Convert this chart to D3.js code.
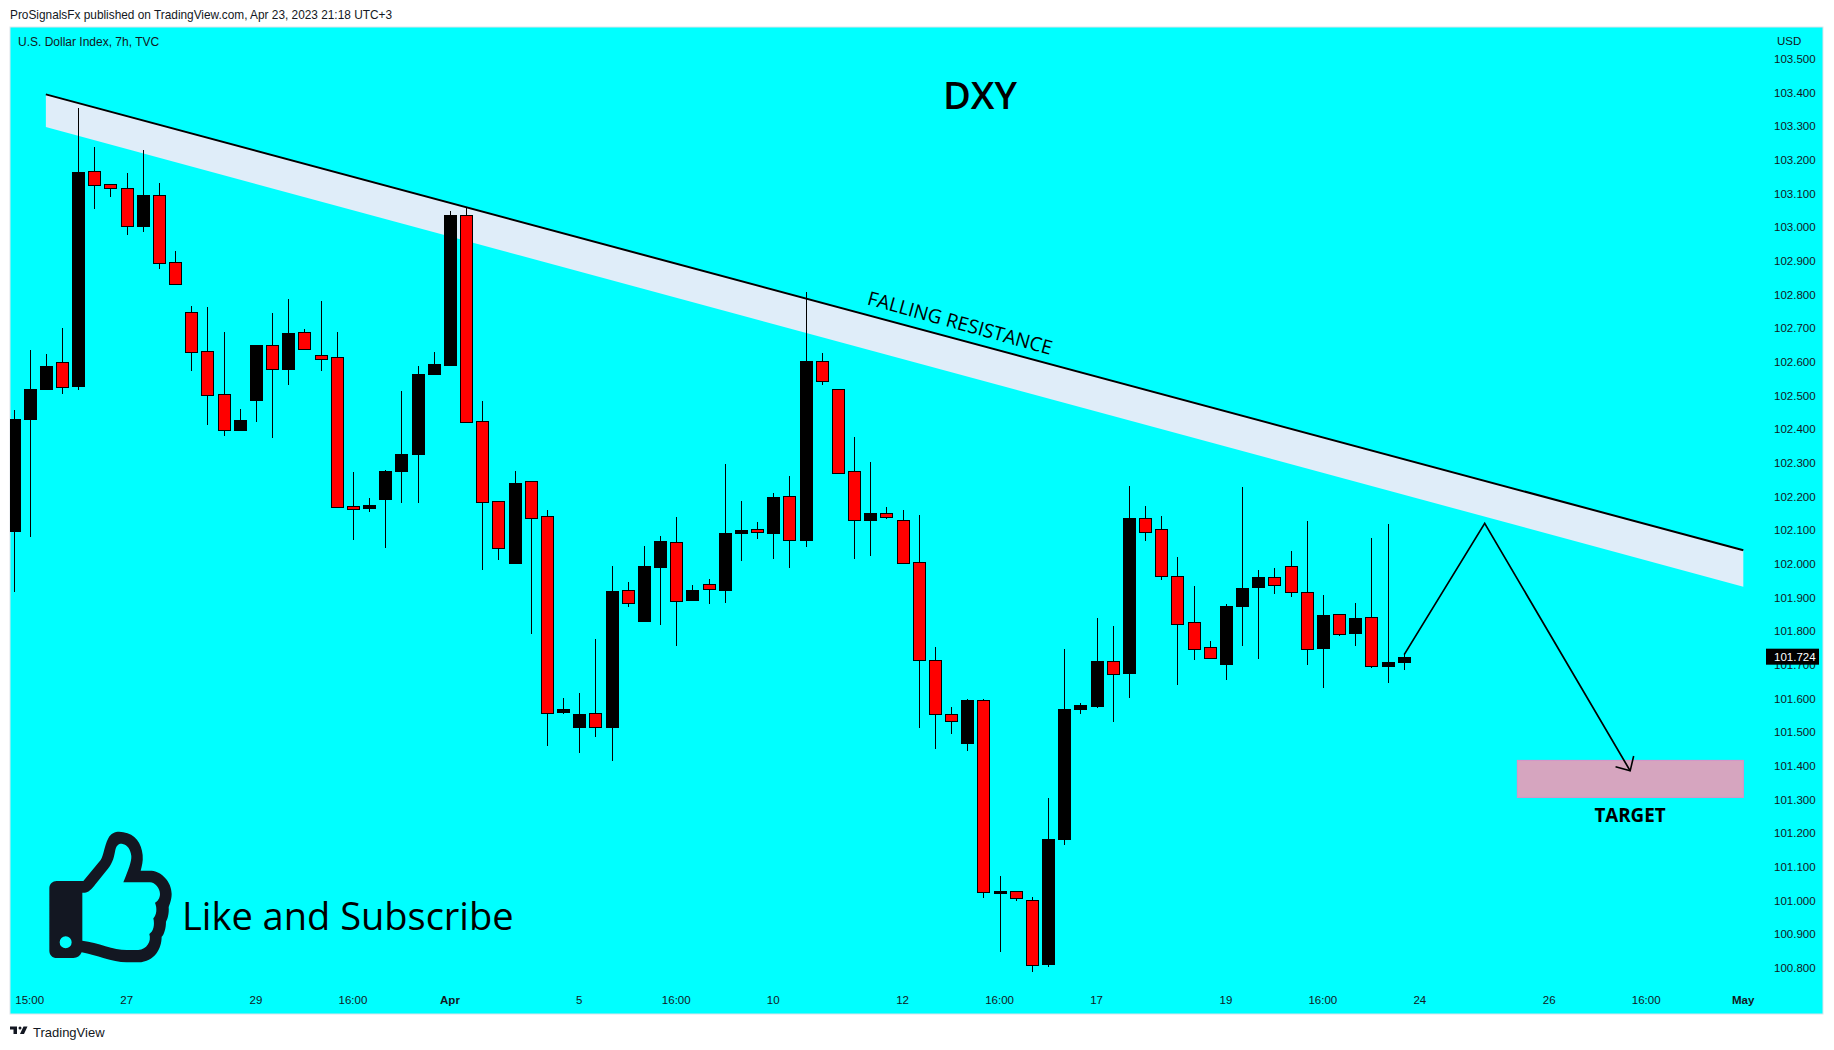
<!DOCTYPE html>
<html>
<head>
<meta charset="utf-8">
<script src="https://cdn.jsdelivr.net/npm/d3@7"></script>
<style>
  html, body { margin: 0; padding: 0; background: #fff; }
  text { font-family: "Liberation Sans", Arial, sans-serif; fill: #131722; }
</style>
</head>
<body>
<div id="chart"></div>
<script>
// Canvas size and the pane that holds the chart
const width = 1834;
const height = 1050;
const pane = { left: 10, top: 27, right: 1823, bottom: 1014 };

// OHLC, one entry per 7h candle
const opens = [102.097,102.430,102.519,102.598,102.528,103.165,103.127,103.115,103.003,103.094,102.895,102.749,102.631,102.503,102.397,102.486,102.649,102.578,102.688,102.619,102.614,102.173,102.165,102.192,102.275,102.326,102.563,102.590,103.035,102.423,102.185,102.002,102.245,102.141,101.559,101.513,101.556,101.516,101.921,101.831,101.991,102.066,101.892,101.939,101.923,102.091,102.102,102.091,102.200,102.070,102.601,102.518,102.274,102.130,102.152,102.129,102.004,101.713,101.553,101.467,101.594,101.023,101.027,101.000,100.812,101.182,101.568,101.578,101.710,101.675,102.135,102.102,101.965,101.826,101.752,101.703,101.875,101.929,101.962,101.992,101.915,101.750,101.850,101.794,101.841,101.696,101.708];
const highs = [102.456,102.634,102.623,102.700,103.355,103.237,103.127,103.160,103.228,103.130,102.929,102.765,102.762,102.688,102.459,102.649,102.744,102.786,102.697,102.780,102.688,102.272,102.195,102.278,102.513,102.587,102.629,103.047,103.057,102.483,102.185,102.275,102.245,102.159,101.601,101.616,101.776,101.993,101.945,102.052,102.082,102.139,101.937,101.954,102.296,102.186,102.124,102.210,102.260,102.807,102.626,102.518,102.376,102.302,102.168,102.159,102.144,101.752,101.574,101.598,101.599,101.072,101.027,101.010,101.304,101.746,101.586,101.839,101.815,102.231,102.171,102.141,102.020,101.934,101.770,101.880,102.228,101.981,101.987,102.038,102.127,101.907,101.850,101.883,102.076,102.118,101.735];
const lows = [101.917,102.080,102.516,102.504,102.516,103.053,103.090,102.976,102.986,102.876,102.831,102.572,102.412,102.379,102.397,102.421,102.374,102.531,102.638,102.572,102.169,102.070,102.153,102.046,102.180,102.180,102.560,102.590,102.419,101.981,102.011,101.999,101.791,101.459,101.553,101.438,101.486,101.415,101.872,101.831,101.818,101.756,101.892,101.880,101.883,102.008,102.073,102.014,101.987,102.049,102.531,102.270,102.014,102.023,102.133,102.000,101.512,101.449,101.494,101.444,101.007,100.847,100.999,100.788,100.803,101.165,101.553,101.572,101.530,101.601,102.067,101.952,101.640,101.714,101.718,101.655,101.756,101.717,101.910,101.901,101.699,101.631,101.785,101.755,101.690,101.645,101.684];
const closes = [102.430,102.519,102.587,102.523,103.163,103.122,103.114,103.001,103.095,102.891,102.831,102.629,102.499,102.395,102.427,102.649,102.579,102.685,102.638,102.608,102.169,102.163,102.174,102.275,102.326,102.563,102.593,103.035,102.419,102.181,102.044,102.239,102.136,101.557,101.568,101.553,101.513,101.919,101.881,101.993,102.067,101.890,101.921,101.923,102.091,102.100,102.092,102.198,102.068,102.602,102.543,102.270,102.128,102.150,102.139,102.000,101.712,101.554,101.531,101.595,101.023,101.029,101.005,100.806,101.182,101.568,101.580,101.711,101.670,102.136,102.092,101.961,101.822,101.747,101.718,101.874,101.928,101.960,101.937,101.914,101.747,101.847,101.792,101.839,101.694,101.708,101.724];
const lastPrice = 101.724;

// Axis labels
const priceTicks = d3.range(27, -1, -1).map(k => +(100.8 + k / 10).toFixed(1));
const timeTickIndex = [1, 7, 15, 21, 27, 35, 41, 47, 55, 61, 67, 75, 81, 87, 95, 101, 107];
const timeTickLabels = ["15:00", "27", "29", "16:00", "Apr", "5", "16:00", "10", "12", "16:00", "17", "19", "16:00", "24", "26", "16:00", "May"];
const boldLabels = ["Apr", "May"];

// Drawings on the chart, as [candle index, price]
const resistanceTop = [[1.97, 103.394], [106.98, 102.04]];
const resistanceBottom = [[1.97, 103.297], [106.98, 101.932]];
const projection = [[86, 101.73], [90.98, 102.12], [99.98, 101.385]];
const targetZone = { from: 93, to: 106.98, top: 101.416, bottom: 101.306 };

const x = d3.scaleLinear().domain([0, 107]).range([14, 14 + 107 * 16.165]);
const y = d3.scaleLinear().domain([103.5, 100.8]).range([58.7, 967.8]);

const svg = d3.select("#chart").append("svg")
    .attr("width", width)
    .attr("height", height)
    .style("display", "block");

const defs = svg.append("defs");
defs.append("clipPath").attr("id", "pane-clip").append("rect")
    .attr("x", pane.left).attr("y", pane.top)
    .attr("width", pane.right - pane.left).attr("height", pane.bottom - pane.top);
// Open arrow head for the projected move
defs.append("marker")
    .attr("id", "open-arrow")
    .attr("viewBox", "-18 -12 20 24")
    .attr("refX", 0).attr("refY", 0)
    .attr("markerUnits", "userSpaceOnUse")
    .attr("markerWidth", 20).attr("markerHeight", 24)
    .attr("orient", "auto")
    .append("path")
    .attr("d", "M-11,-10.5L0,0L-11,10.5")
    .attr("fill", "none").attr("stroke", "#000").attr("stroke-width", 1.6);

// Pane background
svg.append("rect")
    .attr("x", pane.left).attr("y", pane.top)
    .attr("width", pane.right - pane.left).attr("height", pane.bottom - pane.top)
    .attr("fill", "#00ffff")
    .attr("stroke", "#dfe3ea").attr("stroke-width", 1);

// Header and footer
svg.append("text").attr("x", 10).attr("y", 19).style("font-size", "11.85px")
    .text("ProSignalsFx published on TradingView.com, Apr 23, 2023 21:18 UTC+3");
svg.append("text").attr("x", 18).attr("y", 46).style("font-size", "12px")
    .text("U.S. Dollar Index, 7h, TVC");
svg.append("text").attr("x", 1777).attr("y", 45).style("font-size", "11.5px").text("USD");
svg.append("text").attr("x", 33).attr("y", 1037).style("font-size", "13px").text("TradingView");
const logo = svg.append("g").attr("transform", "translate(10,1023.5) scale(0.5)").attr("fill", "#131722");
logo.append("path").attr("d", "M14 6H0v6h7v9h7z");
logo.append("circle").attr("cx", 20).attr("cy", 9).attr("r", 3);
logo.append("path").attr("d", "M28 21h-8l7-15h8z");

// Axes
const yAxis = svg.append("g")
    .attr("transform", "translate(1774,0)")
    .call(d3.axisRight(y).tickValues(priceTicks).tickFormat(d3.format(".3f")).tickSize(0).tickPadding(0));
yAxis.select(".domain").remove();
yAxis.selectAll("text").style("font-size", "11.5px").style("font-family", "'Liberation Sans', Arial, sans-serif").attr("fill", "#131722");

const xAxis = svg.append("g")
    .attr("transform", "translate(-1,996)")
    .call(d3.axisBottom(x).tickValues(timeTickIndex)
        .tickFormat((d, i) => timeTickLabels[i]).tickSize(0).tickPadding(0));
xAxis.select(".domain").remove();
xAxis.selectAll("text")
    .style("font-size", "11.5px")
    .style("font-family", "'Liberation Sans', Arial, sans-serif")
    .style("font-weight", (d, i) => boldLabels.includes(timeTickLabels[i]) ? "bold" : "normal");

const plot = svg.append("g").attr("clip-path", "url(#pane-clip)");

// Resistance band sits under the candles
const bandArea = d3.area()
    .x(d => x(d[0]))
    .y0((d, i) => y(resistanceBottom[i][1]))
    .y1(d => y(d[1]));
plot.append("path").datum(resistanceTop).attr("d", bandArea).attr("fill", "#dfedf9");

// Target zone
plot.append("rect")
    .attr("x", x(targetZone.from))
    .attr("y", y(targetZone.top))
    .attr("width", x(targetZone.to) - x(targetZone.from))
    .attr("height", y(targetZone.bottom) - y(targetZone.top))
    .attr("fill", "#d6a5bf")
    .attr("stroke", "#e08fc4").attr("stroke-width", 1);

// Candles
const candles = opens.map((open, i) => ({ i, open, high: highs[i], low: lows[i], close: closes[i] }));
const bodyWidth = 12;
const candle = plot.append("g").selectAll("g")
    .data(candles)
    .enter().append("g");
candle.append("line")
    .attr("x1", d => Math.floor(x(d.i)) + 0.5).attr("x2", d => Math.floor(x(d.i)) + 0.5)
    .attr("y1", d => y(d.high)).attr("y2", d => y(d.low))
    .attr("stroke", "#000").attr("stroke-width", 1)
    .attr("shape-rendering", "crispEdges");
candle.append("rect")
    .attr("x", d => Math.floor(x(d.i)) + 0.5 - bodyWidth / 2)
    .attr("width", bodyWidth)
    .attr("y", d => Math.round(y(Math.max(d.open, d.close))) + 0.5)
    .attr("height", d => Math.max(1, Math.round(y(Math.min(d.open, d.close)) - y(Math.max(d.open, d.close)))))
    .attr("fill", d => d.close >= d.open ? "#000" : "#ff0000")
    .attr("stroke", "#000").attr("stroke-width", 1)
    .attr("shape-rendering", "crispEdges");

// Resistance line and projected path go over the candles
const line = d3.line().x(d => x(d[0])).y(d => y(d[1]));
plot.append("path").attr("d", line(resistanceTop))
    .attr("fill", "none").attr("stroke", "#000").attr("stroke-width", 2);
plot.append("path").attr("d", line(projection))
    .attr("fill", "none").attr("stroke", "#000").attr("stroke-width", 1.7)
    .attr("marker-end", "url(#open-arrow)");

// Last price tag
const tag = svg.append("g").attr("transform", `translate(1766,${y(lastPrice)})`);
tag.append("rect").attr("x", 0).attr("y", -8).attr("width", 53).attr("height", 16).attr("fill", "#000");
tag.append("text").attr("x", 8).attr("y", 4).style("font-size", "11.5px").style("fill", "#fff")
    .text(d3.format(".3f")(lastPrice));

// Chart annotations
svg.append("text").attr("x", 980).attr("y", 109).attr("text-anchor", "middle")
    .style("font-family", "'Open Sans', sans-serif").style("font-size", "38px").style("font-weight", 600)
    .style("fill", "#000").text("DXY");
svg.append("text").attr("transform", "translate(960,323) rotate(15.4)").attr("text-anchor", "middle")
    .attr("dy", "0.35em").style("font-family", "'Open Sans', sans-serif").style("font-size", "19.3px")
    .style("fill", "#000").text("FALLING RESISTANCE");
svg.append("text").attr("x", 1630).attr("y", 822).attr("text-anchor", "middle")
    .style("font-family", "'Open Sans', sans-serif").style("font-size", "18.8px").style("font-weight", 700)
    .style("fill", "#000").text("TARGET");
svg.append("text").attr("x", 182).attr("y", 930)
    .style("font-family", "'Open Sans', sans-serif").style("font-size", "38px")
    .style("fill", "#000").text("Like and Subscribe");

// Thumbs up icon
svg.append("path")
    .attr("transform", "translate(40,820) scale(0.3333)")
    .attr("fill", "#131722").attr("fill-rule", "evenodd")
    .attr("d", "M50,183L130,183L182,120C192,105 192,80 205,55C215,35 235,33 250,37C285,42 305,70 308,105C310,125 305,140 302,152L335,152C365,155 395,185 395,222C395,240 388,255 386,262C388,280 382,300 378,305C378,325 372,345 365,350C365,385 345,425 295,427L260,427C215,427 170,405 125,397C120,408 112,414 100,414L50,414C38,414 28,405 28,392L28,205C28,192 38,183 50,183Z"
        + "M127,218L135,218C150,216 160,200 170,188L205,145C220,125 222,110 226,90C230,75 238,70 248,72C262,75 272,88 274,108C275,125 265,150 250,187L330,187C345,187 360,205 360,222C360,235 352,245 345,248C352,265 350,285 340,295C345,315 340,335 328,342C335,365 320,388 295,390L260,390C220,390 175,368 127,362Z"
        + "M59,367a18,18 0 1,0 36,0a18,18 0 1,0 -36,0Z");
</script>
</body>
</html>
